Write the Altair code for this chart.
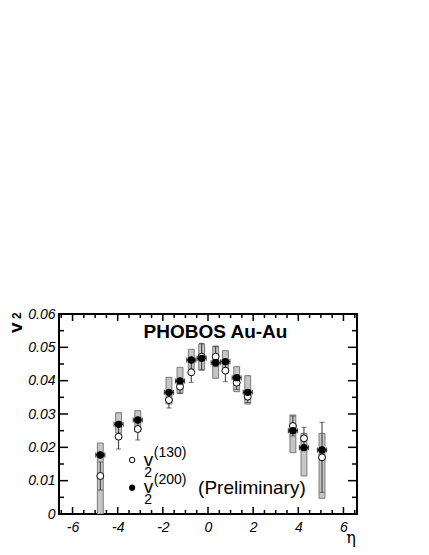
import altair as alt
import pandas as pd

# ---- data ----
eta = [-4.77, -3.96, -3.11, -1.73, -1.24, -0.74, -0.28, 0.34, 0.77, 1.27, 1.76, 3.76, 4.25, 5.05]
v200 = [0.0177, 0.0269, 0.0282, 0.0365, 0.0399, 0.0462, 0.0467, 0.0454, 0.0457, 0.0409, 0.0365, 0.0250, 0.0199, 0.0192]
v200_err = [0.0012, 0.0010, 0.0010, 0.0010, 0.0010, 0.0010, 0.0010, 0.0010, 0.0010, 0.0010, 0.0010, 0.0010, 0.0010, 0.0010]
eta_err = [0.2] * 14
v130 = [0.0114, 0.0232, 0.0255, 0.0342, 0.0382, 0.0425, 0.0472, 0.0472, 0.0430, 0.0394, 0.0352, 0.0264, 0.0227, 0.0170]
v130_err = [0.0042, 0.0037, 0.0033, 0.0024, 0.0020, 0.0030, 0.0040, 0.0030, 0.0033, 0.0020, 0.0018, 0.0030, 0.0033, 0.0105]
sys_lo = [0.0, 0.0243, 0.0247, 0.0330, 0.0362, 0.0435, 0.0432, 0.0407, 0.0435, 0.0367, 0.0330, 0.0184, 0.0114, 0.0047]
sys_hi = [0.0213, 0.0304, 0.0310, 0.0410, 0.0440, 0.0494, 0.0510, 0.0504, 0.0490, 0.0442, 0.0415, 0.0297, 0.0242, 0.0242]
box_half = 0.13

x_major = [-6, -4, -2, 0, 2, 4, 6]
x_minor = [-6.5, -5.5, -5, -4.5, -3.5, -3, -2.5, -1.5, -1, -0.5, 0.5, 1, 1.5, 2.5, 3, 3.5, 4.5, 5, 5.5, 6.5]
y_major = [0, 0.01, 0.02, 0.03, 0.04, 0.05, 0.06]
y_minor = [0.005, 0.015, 0.025, 0.035, 0.045, 0.055]

W, H = 298, 200
FONT = "Liberation Sans"

df = pd.DataFrame({"eta": eta, "v200": v200, "v200_err": v200_err, "eta_err": eta_err,
                   "v130": v130, "v130_err": v130_err, "lo": sys_lo, "hi": sys_hi})
df["bx1"] = df["eta"] - box_half
df["bx2"] = df["eta"] + box_half
df["ex1"] = df["eta"] - df["eta_err"]
df["ex2"] = df["eta"] + df["eta_err"]
df["fy1"] = df["v200"] - df["v200_err"]
df["fy2"] = df["v200"] + df["v200_err"]
df["oy1"] = df["v130"] - df["v130_err"]
df["oy2"] = df["v130"] + df["v130_err"]

xs = alt.Scale(domain=[-6.6, 6.6], nice=False, zero=False)
ys = alt.Scale(domain=[0, 0.06], nice=False, zero=False)
xaxis = alt.Axis(values=x_major, tickSize=0, domain=False, grid=False, labelFont=FONT,
                 labelFontStyle="italic", labelFontSize=14, labelPadding=6, labelColor="black",
                 labelExpr="datum.value < 0 ? '-' + abs(datum.value) : '' + datum.value",
                 title=None)
yaxis = alt.Axis(values=y_major, tickSize=0, domain=False, grid=False, labelFont=FONT,
                 labelFontStyle="italic", labelFontSize=14, labelPadding=4, labelColor="black",
                 labelExpr="datum.value == 0 ? '0' : format(datum.value, '.2f')", title=None)


def X(f):
    return alt.X(f, type="quantitative", scale=xs, axis=xaxis)


def Y(f):
    return alt.Y(f, type="quantitative", scale=ys, axis=yaxis)


base = alt.Chart(df)

boxes = base.mark_rect(fill="#c6c6c6", stroke="#7a7a7a", strokeWidth=1, clip=True).encode(
    x=X("bx1"), x2="bx2", y=Y("lo"), y2="hi")

open_err = base.mark_rule(color="#333333", strokeWidth=1).encode(x=X("eta"), y=Y("oy1"), y2="oy2")
open_cap1 = base.mark_tick(color="#333333", thickness=1, size=5, orient="horizontal").encode(x=X("eta"), y=Y("oy1"))
open_cap2 = base.mark_tick(color="#333333", thickness=1, size=5, orient="horizontal").encode(x=X("eta"), y=Y("oy2"))
open_pts = base.mark_point(shape="circle", filled=True, fill="white", stroke="black",
                           strokeWidth=1, size=48, opacity=1).encode(x=X("eta"), y=Y("v130"))

fil_herr = base.mark_rule(color="black", strokeWidth=1.2).encode(x=X("ex1"), x2="ex2", y=Y("v200"))
fil_hcap1 = base.mark_tick(color="black", thickness=1.2, size=5, orient="vertical").encode(x=X("ex1"), y=Y("v200"))
fil_hcap2 = base.mark_tick(color="black", thickness=1.2, size=5, orient="vertical").encode(x=X("ex2"), y=Y("v200"))
fil_verr = base.mark_rule(color="black", strokeWidth=1.2).encode(x=X("eta"), y=Y("fy1"), y2="fy2")
fil_pts = base.mark_point(shape="circle", filled=True, color="black", size=55, opacity=1).encode(
    x=X("eta"), y=Y("v200"))

# ---- frame ticks (inward) ----
txM = pd.DataFrame({"t": x_major})
txm = pd.DataFrame({"t": x_minor})
tyM = pd.DataFrame({"t": y_major})
tym = pd.DataFrame({"t": y_minor})
tk = dict(color="black", strokeWidth=1.5)
ticks = [
    alt.Chart(txM).mark_rule(**tk).encode(x=X("t"), y=alt.value(H), y2=alt.value(H - 7)),
    alt.Chart(txm).mark_rule(**tk).encode(x=X("t"), y=alt.value(H), y2=alt.value(H - 4)),
    alt.Chart(txM).mark_rule(**tk).encode(x=X("t"), y=alt.value(0), y2=alt.value(7)),
    alt.Chart(txm).mark_rule(**tk).encode(x=X("t"), y=alt.value(0), y2=alt.value(4)),
    alt.Chart(tyM).mark_rule(**tk).encode(y=Y("t"), x=alt.value(0), x2=alt.value(9)),
    alt.Chart(tym).mark_rule(**tk).encode(y=Y("t"), x=alt.value(0), x2=alt.value(5)),
    alt.Chart(tyM).mark_rule(**tk).encode(y=Y("t"), x=alt.value(W), x2=alt.value(W - 9)),
    alt.Chart(tym).mark_rule(**tk).encode(y=Y("t"), x=alt.value(W), x2=alt.value(W - 5)),
]

# ---- annotations ----
title_df = pd.DataFrame({"x": [0.33], "y": [0.0528], "s": ["PHOBOS Au-Au"]})
title = alt.Chart(title_df).mark_text(font=FONT, fontSize=19, fontWeight="bold", color="black",
                                      align="center", baseline="alphabetic").encode(
    x=X("x"), y=Y("y"), text="s:N")

leg_open = pd.DataFrame({"x": [-3.36], "y": [0.0162]})
leg_fill = pd.DataFrame({"x": [-3.36], "y": [0.0079]})
leg_o = alt.Chart(leg_open).mark_point(shape="circle", filled=True, fill="white", stroke="black",
                                       strokeWidth=1, size=30, opacity=1).encode(x=X("x"), y=Y("y"))
leg_f = alt.Chart(leg_fill).mark_point(shape="circle", filled=True, color="black", size=38,
                                       opacity=1).encode(x=X("x"), y=Y("y"))

big_df = pd.DataFrame({"x": [-2.85, -2.85, -0.44], "y": [0.0145, 0.0064, 0.0060],
                       "s": ["v", "v", "(Preliminary)"]})
big = alt.Chart(big_df).mark_text(font=FONT, fontSize=19, color="black", align="left",
                                  baseline="alphabetic").encode(x=X("x"), y=Y("y"), text="s:N")
small_df = pd.DataFrame({"x": [-2.82, -2.82, -2.4, -2.4], "y": [0.0111, 0.0030, 0.0170, 0.0089],
                         "s": ["2", "2", "(130)", "(200)"]})
small = alt.Chart(small_df).mark_text(font=FONT, fontSize=14, color="black", align="left",
                                      baseline="alphabetic").encode(x=X("x"), y=Y("y"), text="s:N")

ytitle_v = alt.Chart(pd.DataFrame({"s": ["v"]})).mark_text(
    font=FONT, fontSize=19, fontWeight="bold", color="black", angle=270, align="left",
    baseline="alphabetic").encode(x=alt.value(-37), y=alt.value(19), text="s:N")
ytitle_2 = alt.Chart(pd.DataFrame({"s": ["2"]})).mark_text(
    font=FONT, fontSize=12, fontWeight="bold", color="black", angle=270, align="left",
    baseline="alphabetic").encode(x=alt.value(-38), y=alt.value(5), text="s:N")
xtitle = alt.Chart(pd.DataFrame({"s": ["η"]})).mark_text(
    font="DejaVu Serif", fontSize=16, color="black", align="center",
    baseline="alphabetic").encode(x=alt.value(292), y=alt.value(229), text="s:N")

chart = alt.layer(
    boxes, open_err, open_cap1, open_cap2, open_pts,
    fil_herr, fil_hcap1, fil_hcap2, fil_verr, fil_pts,
    *ticks, title, leg_o, leg_f, big, small, ytitle_v, ytitle_2, xtitle
).properties(
    width=W, height=H,
    autosize=alt.AutoSizeParams(type="none"),
    padding={"left": 51, "top": 306, "right": 64, "bottom": 33},
    background="white",
).configure_view(stroke="black", strokeWidth=2)

chart.save("out.html", embed_options={"renderer": "svg", "actions": False})
